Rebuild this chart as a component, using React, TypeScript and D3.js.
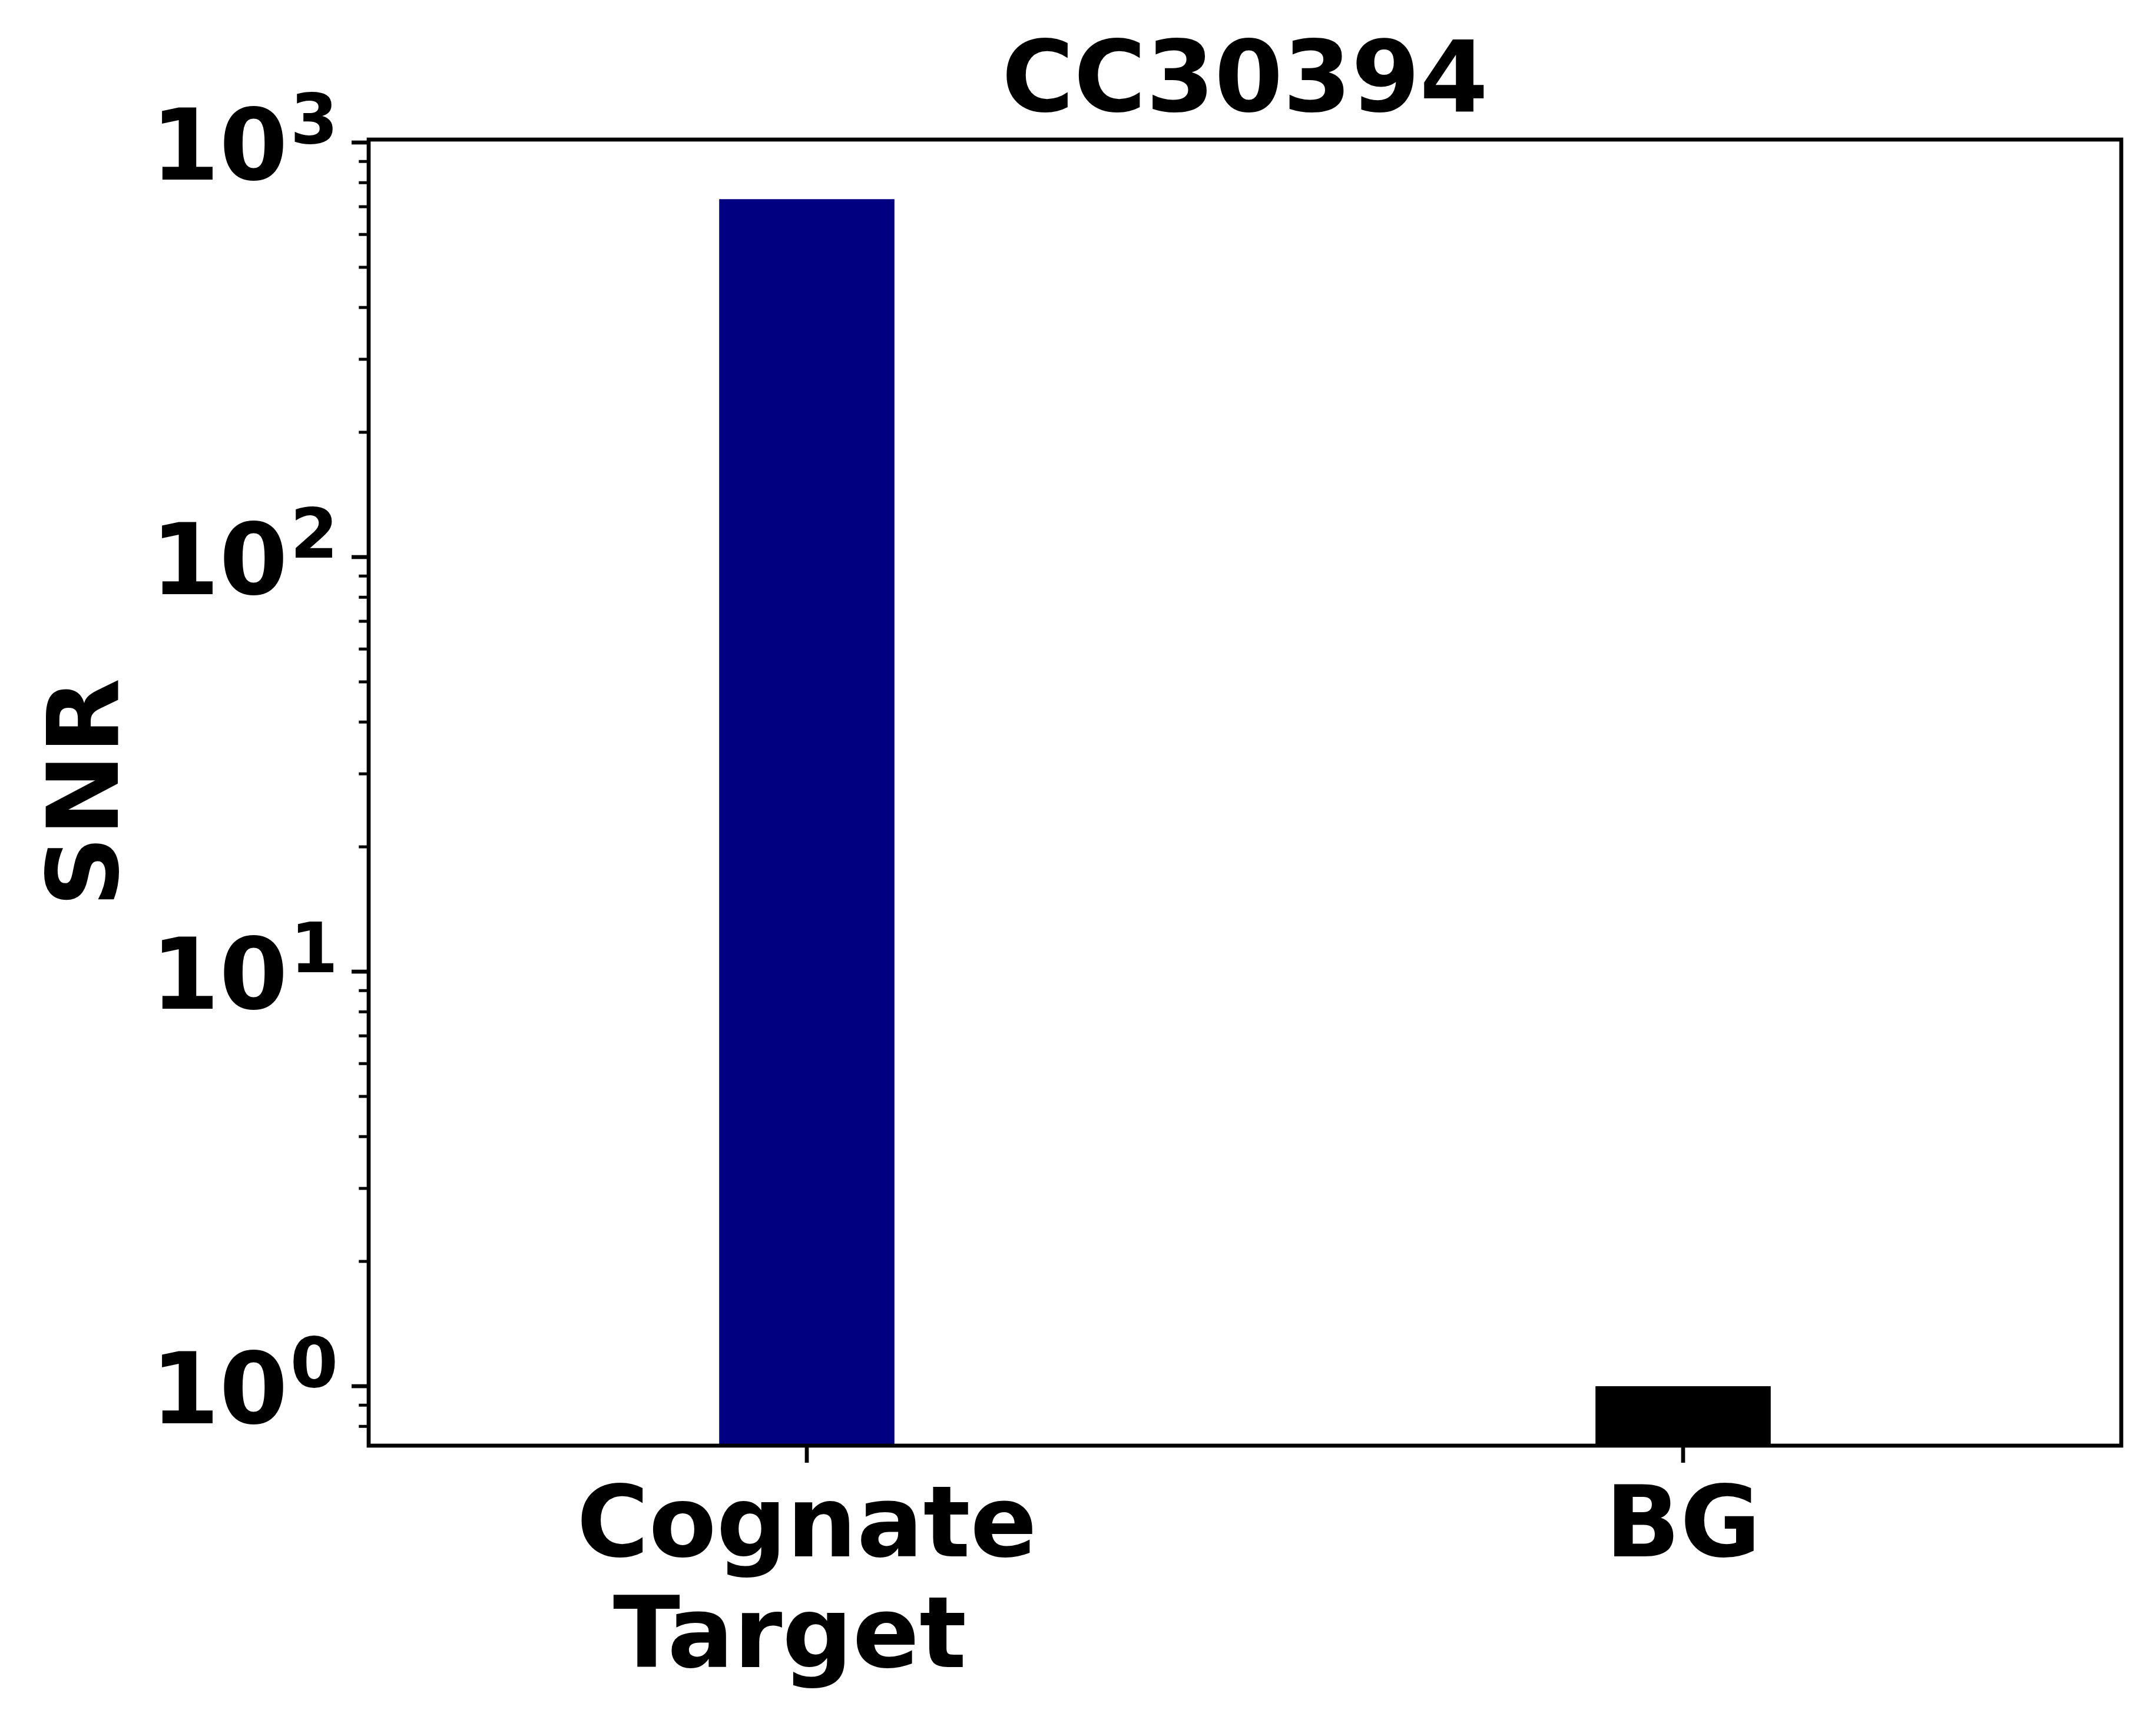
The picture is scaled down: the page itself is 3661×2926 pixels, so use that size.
import * as d3 from "d3";

// chart data
const categories = ["Cognate\nTarget ", "BG"];
const snrValues = [730, 1.0];
const barColors = ["#000080", "#000000"];
const title = "CC30394";
const yLabel = "SNR";
const yDomain = [0.7188, 1016.5];
const xDomain = [-0.5, 1.5];
const barWidth = 0.2;

const W = 3661;
const H = 2926;
const margin = { top: 237, right: W - 3602, bottom: H - 2455, left: 626 };
const fontSize = 167;
const font = "'DejaVu Sans', sans-serif";

export default function App() {
  const x = d3
    .scaleLinear()
    .domain(xDomain)
    .range([margin.left, W - margin.right]);
  const y = d3
    .scaleLog()
    .domain(yDomain)
    .range([H - margin.bottom, margin.top]);

  const allTicks = y.ticks();
  const isMajor = (v: number) => Math.abs(Math.log10(v) - Math.round(Math.log10(v))) < 1e-9;
  const majors = allTicks.filter(isMajor);
  const minors = allTicks.filter((v) => !isMajor(v));

  const spine = 6.7;
  const majorLen = 29;
  const minorLen = 16.7;
  const cx = (margin.left + W - margin.right) / 2;
  const cy = (margin.top + H - margin.bottom) / 2;

  return (
    <svg
      width={W}
      height={H}
      viewBox={`0 0 ${W} ${H}`}
      style={{ position: "absolute", left: 0, top: 0, background: "#fff" }}
      fontFamily={font}
      fontWeight="bold"
    >
      <rect x={0} y={0} width={W} height={H} fill="#fff" />

      {/* bars */}
      {snrValues.map((v, i) => (
        <rect
          key={i}
          x={x(i - barWidth / 2)}
          y={y(v)}
          width={x(i + barWidth / 2) - x(i - barWidth / 2)}
          height={y(yDomain[0]) - y(v)}
          fill={barColors[i]}
        />
      ))}

      {/* frame */}
      <rect
        x={margin.left}
        y={margin.top}
        width={W - margin.left - margin.right}
        height={H - margin.top - margin.bottom}
        fill="none"
        stroke="#000"
        strokeWidth={spine}
      />

      {/* y minor ticks */}
      {minors.map((v) => (
        <line
          key={`m${v}`}
          x1={margin.left - minorLen}
          x2={margin.left}
          y1={y(v)}
          y2={y(v)}
          stroke="#000"
          strokeWidth={5}
        />
      ))}

      {/* y major ticks + labels */}
      {majors.map((v) => (
        <g key={`M${v}`}>
          <line
            x1={margin.left - majorLen}
            x2={margin.left}
            y1={y(v)}
            y2={y(v)}
            stroke="#000"
            strokeWidth={spine}
          />
          <text
            x={margin.left - majorLen - 23}
            y={y(v) + 63}
            textAnchor="end"
            fontSize={fontSize}
          >
            10
            <tspan dx={4} dy={-62} fontSize={fontSize * 0.7}>
              {Math.round(Math.log10(v))}
            </tspan>
          </text>
        </g>
      ))}

      {/* x ticks + labels */}
      {categories.map((c, i) => (
        <g key={c}>
          <line
            x1={x(i)}
            x2={x(i)}
            y1={H - margin.bottom}
            y2={H - margin.bottom + majorLen}
            stroke="#000"
            strokeWidth={spine}
          />
          <text
            x={x(i)}
            y={H - margin.bottom + 188}
            textAnchor="middle"
            fontSize={fontSize}
            xmlSpace="preserve"
            style={{ whiteSpace: "pre" }}
          >
            {c.split("\n").map((line, j) => (
              <tspan key={j} x={x(i)} dy={j === 0 ? 0 : 188}>
                {line}
              </tspan>
            ))}
          </text>
        </g>
      ))}

      {/* title */}
      <text x={cx} y={189} textAnchor="middle" fontSize={fontSize}>
        {title}
      </text>

      {/* y label */}
      <text
        transform={`translate(200,${cy}) rotate(-90)`}
        textAnchor="middle"
        fontSize={fontSize}
      >
        {yLabel}
      </text>
    </svg>
  );
}
